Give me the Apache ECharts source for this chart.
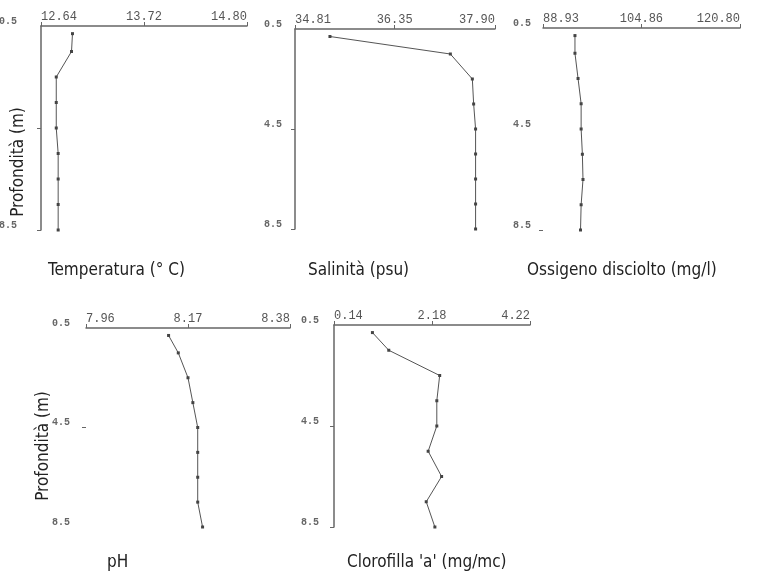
<!DOCTYPE html>
<html>
<head>
<meta charset="utf-8">
<script src="https://cdn.jsdelivr.net/npm/echarts@6/dist/echarts.min.js"></script>
<style>html,body{margin:0;padding:0;background:#fff}#c{width:757px;height:574px}</style>
</head>
<body>
<div id="c"></div>
<script>
// depths (m)
var depths = [0.8, 1.5, 2.5, 3.5, 4.5, 5.5, 6.5, 7.5, 8.5];
// series values
var temperatura = [12.97, 12.96, 12.80, 12.80, 12.80, 12.82, 12.82, 12.82, 12.82];
var salinita = [35.35, 37.21, 37.55, 37.57, 37.60, 37.60, 37.60, 37.60, 37.60];
var ossigeno = [94.1, 94.1, 94.6, 95.1, 95.1, 95.3, 95.4, 95.1, 95.0];
var ph = [8.13, 8.15, 8.17, 8.18, 8.19, 8.19, 8.19, 8.19, 8.20];
var clorofilla = [0.94, 1.28, 2.34, 2.28, 2.28, 2.10, 2.38, 2.06, 2.24];
// tick labels
var tempTicks = [12.64, 13.72, 14.80];
var salTicks = [34.81, 36.35, 37.90];
var oxyTicks = [88.93, 104.86, 120.80];
var phTicks = [7.96, 8.17, 8.38];
var chlTicks = [0.14, 2.18, 4.22];
var depthTicks = [0.5, 4.5, 8.5];
// titles
var titles = ['Temperatura (° C)', 'Salinità (psu)', 'Ossigeno disciolto (mg/l)', 'pH', "Clorofilla 'a' (mg/mc)"];
var depthName = 'Profondità (m)';

var panels = [
  {vals: temperatura, ticks: tempTicks, grid: {left: 41, top: 26, width: 206, height: 204}, ylabels: [0.5, 8.5], ytick: [4.5, 8.5], yline: true, ymargin: 24},
  {vals: salinita, ticks: salTicks, grid: {left: 295, top: 29, width: 200, height: 200}, ylabels: depthTicks, ytick: [4.5, 8.5], yline: true, ymargin: 13},
  {vals: ossigeno, ticks: oxyTicks, grid: {left: 543, top: 28, width: 197, height: 202}, ylabels: depthTicks, ytick: [8.5], yline: false, ymargin: 12},
  {vals: ph, ticks: phTicks, grid: {left: 86, top: 328, width: 204, height: 199}, ylabels: depthTicks, ytick: [4.5], yline: false, ymargin: 16},
  {vals: clorofilla, ticks: chlTicks, grid: {left: 334, top: 325, width: 196, height: 202}, ylabels: depthTicks, ytick: [4.5, 8.5], yline: true, ymargin: 15}
];

var grids = [], xAxes = [], yAxes = [], series = [];
panels.forEach(function (p, i) {
  var g = Object.assign({containLabel: false, outerBoundsMode: 'none'}, p.grid);
  grids.push(g);
  xAxes.push({
    gridIndex: i, type: 'value', position: 'top',
    min: p.ticks[0], max: p.ticks[2],
    axisLine: {show: true, lineStyle: {color: '#666', width: 1.5}},
    axisTick: {show: true, customValues: p.ticks, length: 4, lineStyle: {color: '#666'}},
    axisLabel: {customValues: p.ticks, margin: 3, color: '#555', fontFamily: 'Liberation Mono', fontSize: 12,
      alignMinLabel: 'left', alignMaxLabel: 'right',
      formatter: function (v) { return v.toFixed(2); }},
    splitLine: {show: false}
  });
  yAxes.push({
    gridIndex: i, type: 'value', inverse: true, min: 0.5, max: 8.5,
    axisLine: {show: p.yline, lineStyle: {color: '#666', width: 1.5}},
    axisTick: {show: true, customValues: p.ytick, length: 4, lineStyle: {color: '#666'}},
    axisLabel: {customValues: p.ylabels, margin: p.ymargin, color: '#666', fontFamily: 'Liberation Mono', fontSize: 10,
      fontWeight: 'bold', verticalAlign: 'bottom', formatter: function (v) { return v.toFixed(1); }},
    splitLine: {show: false}
  });
  series.push({
    type: 'line', xAxisIndex: i, yAxisIndex: i,
    data: p.vals.map(function (v, k) { return [v, depths[k]]; }),
    symbol: 'rect', symbolSize: 3, showSymbol: true,
    lineStyle: {color: '#555', width: 1}, itemStyle: {color: '#444'},
    animation: false
  });
});

var titleFont = '17px "Liberation Sans Narrow", "DejaVu Sans Condensed", sans-serif';
var titlePos = [[48, 271], [308, 271], [527, 271], [107, 563], [347, 563]];
var graphics = titles.map(function (t, i) {
  return {type: 'text', x: titlePos[i][0], y: titlePos[i][1],
    style: {text: t, font: titleFont, fill: '#222', align: 'left', verticalAlign: 'middle'}};
});
[[19, 162], [44, 446]].forEach(function (pos) {
  graphics.push({type: 'text', x: pos[0], y: pos[1], rotation: Math.PI / 2,
    style: {text: depthName, font: titleFont, fill: '#222', align: 'center', verticalAlign: 'middle'}});
});

var chart = echarts.init(document.getElementById('c'), null, {renderer: 'canvas'});
chart.setOption({
  backgroundColor: '#fff',
  animation: false,
  grid: grids, xAxis: xAxes, yAxis: yAxes, series: series,
  graphic: graphics
});
</script>
</body>
</html>
